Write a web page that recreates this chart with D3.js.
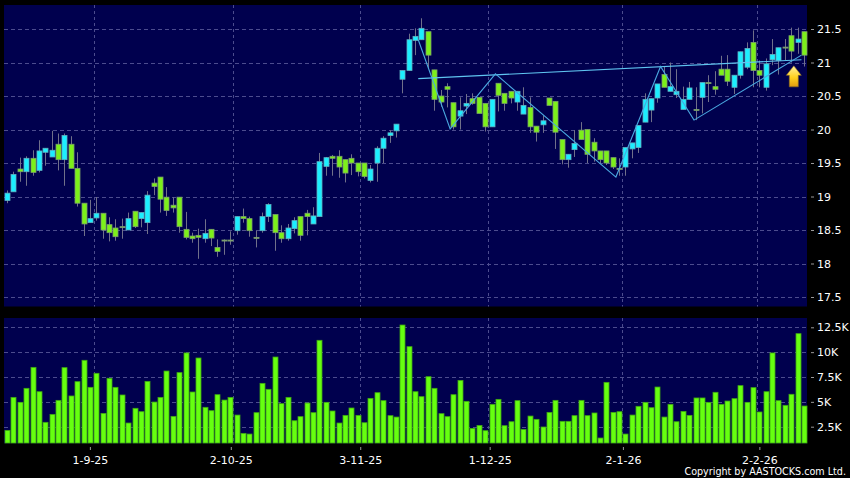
<!DOCTYPE html>
<html><head><meta charset="utf-8">
<script src="https://cdn.jsdelivr.net/npm/d3@7"></script>
<style>html,body{margin:0;padding:0;background:#000}svg{display:block}text{font-family:"DejaVu Sans",sans-serif;fill:#fff}</style>
</head><body><div id="chart"></div>
<script>
// Each row: [bodyTop, bodyBottom, high, low, kind]  c = up, g = down, d = doji
const candleRows = [
[19.05,18.94,19.09,18.90,"c"],[19.33,19.07,19.37,19.07,"c"],[19.41,19.37,19.58,19.22,"g"],[19.57,19.37,19.60,19.16,"c"],[19.57,19.36,19.69,19.31,"g"],
[19.68,19.39,19.84,19.36,"c"],[19.72,19.66,19.72,19.46,"c"],[19.69,19.59,19.98,19.59,"c"],[19.78,19.55,19.94,19.39,"g"],[19.91,19.55,19.94,19.16,"c"],
[19.78,19.42,19.90,19.42,"g"],[19.42,18.90,19.66,18.85,"g"],[18.90,18.59,18.90,18.41,"g"],[18.67,18.61,18.95,18.61,"c"],[18.75,18.68,18.99,18.64,"c"],
[18.75,18.50,18.75,18.37,"g"],[18.58,18.46,18.69,18.33,"g"],[18.53,18.40,18.66,18.34,"g"],[18.55,18.55,18.67,18.37,"d"],[18.67,18.50,18.76,18.50,"c"],
[18.78,18.55,18.78,18.53,"g"],[18.76,18.67,18.76,18.54,"c"],[19.02,18.61,19.08,18.44,"c"],[19.20,19.15,19.27,19.02,"g"],[19.29,18.96,19.29,18.76,"g"],
[18.99,18.79,19.14,18.71,"g"],[18.87,18.83,18.99,18.76,"g"],[18.99,18.55,18.99,18.46,"g"],[18.51,18.39,18.77,18.36,"g"],[18.41,18.37,18.46,18.31,"g"],
[18.42,18.39,18.52,18.07,"g"],[18.45,18.37,18.66,18.31,"c"],[18.51,18.38,18.51,18.26,"g"],[18.24,18.18,18.36,18.10,"g"],[18.35,18.35,18.36,18.13,"d"],
[18.35,18.35,18.48,18.28,"d"],[18.70,18.49,18.70,18.43,"c"],[18.70,18.67,18.82,18.61,"g"],[18.67,18.49,18.70,18.40,"g"],[18.39,18.39,18.49,18.24,"d"],
[18.70,18.49,18.76,18.46,"c"],[18.88,18.70,18.90,18.62,"c"],[18.73,18.46,18.73,18.19,"g"],[18.46,18.37,18.57,18.31,"g"],[18.53,18.37,18.59,18.34,"c"],
[18.64,18.52,18.69,18.45,"c"],[18.70,18.42,18.70,18.34,"g"],[18.75,18.70,18.80,18.42,"g"],[18.71,18.59,18.84,18.59,"c"],[19.52,18.70,19.65,18.70,"c"],
[19.58,19.45,19.59,19.31,"c"],[19.60,19.57,19.62,19.31,"g"],[19.60,19.44,19.69,19.28,"g"],[19.55,19.35,19.55,19.21,"g"],[19.57,19.50,19.63,19.32,"g"],
[19.50,19.37,19.50,19.30,"g"],[19.50,19.30,19.50,19.27,"g"],[19.41,19.24,19.47,19.21,"c"],[19.72,19.50,19.75,19.22,"c"],[19.87,19.72,19.90,19.50,"c"],
[19.95,19.91,19.99,19.80,"c"],[20.08,19.98,20.08,19.88,"c"],[20.88,20.75,20.88,20.54,"c"],[21.34,20.88,21.43,20.88,"c"],[21.39,21.33,21.51,21.11,"c"],
[21.51,21.34,21.66,21.34,"c"],[21.46,21.11,21.46,20.91,"g"],[20.89,20.45,20.89,20.28,"g"],[20.50,20.41,20.59,20.34,"g"],[20.64,20.60,20.69,20.33,"g"],
[20.40,20.04,20.40,20.00,"g"],[20.28,20.20,20.48,20.00,"c"],[20.39,20.35,20.53,20.23,"c"],[20.46,20.39,20.54,20.37,"g"],[20.48,20.24,20.48,20.24,"g"],
[20.39,20.04,20.39,19.97,"g"],[20.45,20.04,20.45,20.04,"c"],[20.69,20.51,20.69,20.27,"g"],[20.54,20.39,20.54,20.28,"g"],[20.57,20.47,20.57,20.39,"g"],
[20.57,20.41,20.57,20.28,"c"],[20.36,20.23,20.63,20.23,"c"],[20.33,20.04,20.48,19.95,"g"],[20.05,19.96,20.05,19.82,"g"],[20.13,20.07,20.21,19.95,"c"],
[20.47,20.36,20.47,20.36,"g"],[20.42,19.96,20.42,19.71,"g"],[19.85,19.55,19.85,19.48,"g"],[19.63,19.55,19.63,19.43,"c"],[19.79,19.70,19.99,19.59,"c"],
[19.99,19.85,20.11,19.85,"g"],[20.00,19.63,20.00,19.50,"g"],[19.81,19.68,19.87,19.52,"g"],[19.68,19.55,19.68,19.50,"g"],[19.68,19.50,19.68,19.47,"g"],
[19.58,19.44,19.58,19.41,"g"],[19.42,19.42,19.57,19.31,"d"],[19.73,19.44,19.73,19.31,"c"],[19.80,19.71,19.80,19.57,"c"],[20.06,19.73,20.06,19.65,"c"],
[20.45,20.11,20.54,20.11,"c"],[20.46,20.29,20.46,20.11,"c"],[20.68,20.47,20.68,20.40,"c"],[20.82,20.63,20.94,20.63,"g"],[20.64,20.57,21.00,20.57,"c"],
[20.57,20.52,20.90,20.47,"c"],[20.45,20.30,20.64,20.30,"c"],[20.62,20.45,20.71,20.45,"c"],[20.30,20.30,20.63,20.14,"d"],[20.70,20.48,20.70,20.24,"c"],
[20.70,20.70,20.81,20.41,"d"],[20.64,20.60,20.87,20.52,"g"],[20.90,20.81,21.10,20.81,"g"],[20.90,20.72,21.11,20.65,"g"],[20.81,20.63,20.81,20.53,"c"],
[21.16,20.81,21.16,20.76,"c"],[21.21,20.93,21.30,20.90,"c"],[21.30,20.88,21.48,20.63,"g"],[20.88,20.81,21.03,20.63,"g"],[20.98,20.63,21.06,20.58,"c"],
[21.12,21.04,21.35,20.96,"c"],[21.22,21.03,21.22,20.82,"c"],[21.23,21.23,21.35,21.03,"d"],[21.40,21.17,21.52,21.00,"g"],[21.35,21.30,21.52,21.13,"c"],
[21.46,21.11,21.46,20.94,"g"]];
const volumes = [2.13,5.45,4.95,6.36,8.47,6.02,2.94,3.74,5.15,8.44,5.59,7.03,9.18,6.46,7.87,3.84,7.37,6.46,5.69,2.87,4.35,4.01,7.06,4.98,5.45,8.10,3.54,7.94,9.92,5.99,9.41,4.45,4.11,5.72,5.18,5.45,3.67,1.83,1.76,3.91,6.86,6.26,9.51,4.82,5.45,3.10,3.51,4.88,3.91,11.19,4.95,4.08,2.87,3.64,4.38,3.64,2.90,5.35,5.92,5.12,3.61,3.47,12.73,10.55,6.02,5.52,7.53,6.36,3.81,3.51,5.72,7.16,5.05,2.33,2.63,2.10,4.75,5.25,2.60,3.00,5.12,2.23,3.57,3.24,2.47,3.94,5.15,3.04,3.04,3.61,5.15,3.61,3.88,1.36,6.96,3.94,4.01,1.76,3.67,4.55,4.95,4.41,6.49,3.47,4.75,3.00,4.04,3.64,5.39,5.39,4.95,5.96,4.75,5.08,5.32,6.63,4.95,6.43,3.98,6.02,9.92,5.12,4.65,5.76,11.86,4.58];
const priceTicks = [17.5,18,18.5,19,19.5,20,20.5,21,21.5];
const volumeTicks = [2.5,5,7.5,10,12.5];
const dateLabels = ["1-9-25","2-10-25","3-11-25","1-12-25","2-1-26","2-2-26"];
const dateTickIndex = [13,35.1,55.4,75.7,96.6,118];
const dateGridIndex = [13.57,35.4,55.4,75.4,96.5,117.6];
const patternLine = [[64.5,21.34],[69.5,20.01],[76.6,20.83],[95.5,19.29],[102.5,20.94],[107.75,20.14],[124.6,21.11]];
const necklineLine = [[64.5,20.76],[124.6,21.04]];
const arrowSpot = [123.4,20.95];
const volumeFloor = 0.86;
const copyright = "Copyright by AASTOCKS.com Ltd.";

const W=850,H=478, L=4,R=807, T1=5,B1=306.5, T2=318,B2=443.3;
const svg=d3.select("#chart").append("svg").attr("width",W).attr("height",H).style("background","#000");
const x=d3.scaleLinear().domain([0,125]).range([7,804]);
const y=d3.scaleLinear().domain([17.5,21.5]).range([297,29]);
const yv=d3.scaleLinear().domain([2.5,12.5]).range([426.7,327.3]);
const BG="#00004e",GRID="#4c4c8e";
const pt=n=>Math.round(n)+.5;

svg.append("rect").attr("x",L).attr("y",T1).attr("width",R-L).attr("height",B1-T1).attr("fill",BG);
svg.append("rect").attr("x",L).attr("y",T2).attr("width",R-L).attr("height",B2-T2).attr("fill",BG);

function grid(vals,scale){
  svg.append("g").selectAll("line").data(vals).join("line")
    .attr("x1",L).attr("x2",R).attr("y1",d=>pt(scale(d))).attr("y2",d=>pt(scale(d)))
    .attr("stroke",GRID).attr("stroke-dasharray","4 3");
}
grid(priceTicks,y); grid(volumeTicks,yv);
[[T1,B1],[T2,B2]].forEach(([a,b])=>{
  svg.append("g").selectAll("line").data(dateGridIndex).join("line")
    .attr("x1",d=>pt(x(d))).attr("x2",d=>pt(x(d))).attr("y1",a).attr("y2",b)
    .attr("stroke",GRID).attr("stroke-dasharray","3 3");
});

// candles
const cg=svg.append("g");
const cols={c:"#1ceeff",g:"#7cf01a",d:"#8fa08f"};
cg.selectAll("line").data(candleRows).join("line")
  .attr("x1",(d,i)=>pt(x(i))).attr("x2",(d,i)=>pt(x(i)))
  .attr("y1",d=>y(d[2])).attr("y2",d=>y(d[3]))
  .attr("stroke","#70708a").attr("stroke-width",1);
cg.selectAll("rect").data(candleRows).join("rect")
  .attr("x",(d,i)=>pt(x(i))-2.5).attr("width",5)
  .attr("y",d=>y(d[0])).attr("height",d=>Math.max(1,y(d[1])-y(d[0])))
  .attr("fill",d=>cols[d[4]]).attr("stroke",d=>d[4]=="c"?"#5fb0c0":"#7aa06a").attr("stroke-width",.8);

// pattern lines
const line=d3.line().x(d=>x(d[0])).y(d=>y(d[1]));
svg.append("path").attr("d",line(necklineLine)).attr("fill","none").attr("stroke","#5fc4f0").attr("stroke-width",1.1);
svg.append("path").attr("d",line(patternLine)).attr("fill","none").attr("stroke","#4aa8e0").attr("stroke-width",1.1);

// arrow
const grad=svg.append("defs").append("linearGradient").attr("id","ag").attr("x1",0).attr("x2",0).attr("y1",0).attr("y2",1);
grad.append("stop").attr("offset","0").attr("stop-color","#fff2a0");
grad.append("stop").attr("offset","0.55").attr("stop-color","#ffd21e");
grad.append("stop").attr("offset","1").attr("stop-color","#e09a10");
const ax=x(arrowSpot[0]),ay=y(arrowSpot[1]);
svg.append("path").attr("d",d3.line()([[ax,ay],[ax+7.5,ay+9.5],[ax+4.5,ay+9.5],[ax+4.5,ay+21],[ax-4.5,ay+21],[ax-4.5,ay+9.5],[ax-7.5,ay+9.5]])+"Z")
  .attr("fill","url(#ag)").attr("stroke","#8a6a20").attr("stroke-width",.6);

// volume
svg.append("g").selectAll("rect").data(volumes).join("rect")
  .attr("x",(d,i)=>pt(x(i))-2.5).attr("width",5)
  .attr("y",d=>yv(d)).attr("height",d=>yv(volumeFloor)-yv(d))
  .attr("fill","#66ff10").attr("stroke","#3fa812").attr("stroke-width",.8);

// axes
function rightAxis(scale,vals,fmt){
  const g=svg.append("g").attr("transform","translate(811,0)")
    .call(d3.axisRight(scale).tickValues(vals).tickFormat(fmt).tickSize(3).tickPadding(3));
  g.select(".domain").remove();
  g.selectAll("line").attr("stroke","#999");
  g.selectAll("text").attr("font-size",11).style("font-family",'"DejaVu Sans",sans-serif').attr("fill","#fff");
}
rightAxis(y,priceTicks,d=>d3.format("~g")(d));
rightAxis(yv,volumeTicks,d=>d+"K");

const bx=d3.scaleOrdinal().domain(dateLabels).range(dateTickIndex.map(d=>x(d)));
const xg=svg.append("g").attr("transform","translate(0,447)")
  .call(d3.axisBottom(bx).tickValues(dateLabels).tickSize(3).tickPadding(6));
xg.select(".domain").remove();
xg.selectAll("line").attr("stroke","#999");
xg.selectAll("text").attr("font-size",11).style("font-family",'"DejaVu Sans",sans-serif').attr("fill","#fff");

svg.append("text").attr("x",846).attr("y",475).attr("text-anchor","end").attr("font-size",9.6).text(copyright);
</script></body></html>
